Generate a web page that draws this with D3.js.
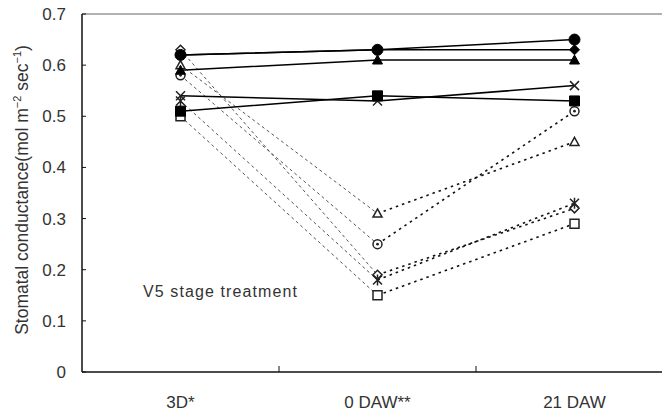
<!DOCTYPE html>
<html>
<head>
<meta charset="utf-8">
<script src="https://cdn.jsdelivr.net/npm/d3@7"></script>
<style>
  body { margin: 0; background: #fff; }
  svg text { font-family: "Liberation Sans", Arial, sans-serif; fill: #333; }
</style>
</head>
<body>
<div id="chart"></div>
<script>
// categories on the x axis
let stages = ["3D*", "0 DAW**", "21 DAW"];
let yTicks = [0, 0.1, 0.2, 0.3, 0.4, 0.5, 0.6, 0.7];

// control plants (solid lines)
let filledCircle = [0.62, 0.63, 0.65];
let filledDiamond = [0.62, 0.63, 0.63];
let filledTriangle = [0.59, 0.61, 0.61];
let crossX = [0.54, 0.53, 0.56];
let filledSquare = [0.51, 0.54, 0.53];

// waterlogged plants (dotted lines)
let openDiamond = [0.63, 0.19, 0.32];
let openTriangle = [0.60, 0.31, 0.45];
let openCircle = [0.58, 0.25, 0.51];
let asterisk = [0.53, 0.18, 0.33];
let openSquare = [0.50, 0.15, 0.29];

let series = [
  { name: "openDiamond", values: openDiamond, shape: "diamond", filled: false, dashed: true },
  { name: "openTriangle", values: openTriangle, shape: "triangle", filled: false, dashed: true },
  { name: "openCircle", values: openCircle, shape: "circledot", filled: false, dashed: true },
  { name: "asterisk", values: asterisk, shape: "asterisk", filled: false, dashed: true },
  { name: "openSquare", values: openSquare, shape: "square", filled: false, dashed: true },
  { name: "filledCircle", values: filledCircle, shape: "circle", filled: true, dashed: false },
  { name: "filledDiamond", values: filledDiamond, shape: "diamond", filled: true, dashed: false },
  { name: "filledTriangle", values: filledTriangle, shape: "triangle", filled: true, dashed: false },
  { name: "crossX", values: crossX, shape: "x", filled: false, dashed: false },
  { name: "filledSquare", values: filledSquare, shape: "square", filled: true, dashed: false }
];

const W = 662, H = 413;
const margin = { TOP: 14, LEFT: 82, BOTTOM: 41 };

const svg = d3.select("#chart").append("svg")
  .attr("width", W).attr("height", H);

const x = d3.scaleBand()
  .domain(stages)
  .range([margin.LEFT, margin.LEFT + 591]);

const y = d3.scaleLinear()
  .domain([0, 0.7])
  .range([H - margin.BOTTOM, margin.TOP]);

const cx = i => x(stages[i]) + x.bandwidth() / 2;

// top frame line
svg.append("line")
  .attr("x1", margin.LEFT).attr("x2", W)
  .attr("y1", y(0.7)).attr("y2", y(0.7))
  .attr("stroke", "#999").attr("stroke-width", 1.5);

// y axis
svg.append("line")
  .attr("x1", margin.LEFT).attr("x2", margin.LEFT)
  .attr("y1", y(0)).attr("y2", y(0.7))
  .attr("stroke", "#111").attr("stroke-width", 1.5);

svg.selectAll(".ytick").data(yTicks).enter().append("line")
  .attr("x1", margin.LEFT).attr("x2", margin.LEFT + 4)
  .attr("y1", d => y(d)).attr("y2", d => y(d))
  .attr("stroke", "#111").attr("stroke-width", 1);

svg.selectAll(".ylab").data(yTicks).enter().append("text")
  .attr("x", margin.LEFT - 16)
  .attr("y", d => y(d))
  .attr("dy", "0.35em")
  .attr("text-anchor", "end")
  .style("font-size", "17px")
  .text(d => d === 0 ? "0" : d3.format(".1f")(d));

// x axis
svg.append("line")
  .attr("x1", margin.LEFT).attr("x2", W)
  .attr("y1", y(0)).attr("y2", y(0))
  .attr("stroke", "#111").attr("stroke-width", 1.5);

svg.selectAll(".xtick").data(stages.slice(1)).enter().append("line")
  .attr("x1", d => x(d)).attr("x2", d => x(d))
  .attr("y1", y(0)).attr("y2", y(0) - 6)
  .attr("stroke", "#111").attr("stroke-width", 1);

svg.selectAll(".xlab").data(stages).enter().append("text")
  .attr("x", d => x(d) + x.bandwidth() / 2)
  .attr("y", 408)
  .attr("text-anchor", "middle")
  .style("font-size", "17px")
  .text(d => d);

// y axis title
const ttl = svg.append("text")
  .attr("transform", "translate(28, 190) rotate(-90)")
  .attr("text-anchor", "middle")
  .style("font-size", "17.5px");
ttl.append("tspan").text("Stomatal conductance(mol m");
ttl.append("tspan").attr("dy", -7).style("font-size", "11px").text("\u22122");
ttl.append("tspan").attr("dy", 7).text(" sec");
ttl.append("tspan").attr("dy", -7).style("font-size", "11px").text("\u22121");
ttl.append("tspan").attr("dy", 7).text(")");

// annotation
svg.append("text")
  .attr("x", 143).attr("y", 297)
  .style("font-size", "16px")
  .style("letter-spacing", "1.1px")
  .text("V5 stage treatment");

// lines: solid ones whole, dashed ones split in two segments with a different look
const line = d3.line()
  .x(d => cx(d.i))
  .y(d => y(d.v));

const solid = series.filter(s => !s.dashed);
const dashed = series.filter(s => s.dashed);

svg.selectAll(".seg1").data(dashed).enter().append("path")
  .attr("d", s => line([{ i: 0, v: s.values[0] }, { i: 1, v: s.values[1] }]))
  .attr("fill", "none")
  .attr("stroke", "#555")
  .attr("stroke-width", 1)
  .attr("stroke-dasharray", "3,3");

svg.selectAll(".seg2").data(dashed).enter().append("path")
  .attr("d", s => line([{ i: 1, v: s.values[1] }, { i: 2, v: s.values[2] }]))
  .attr("fill", "none")
  .attr("stroke", "#111")
  .attr("stroke-width", 1.6)
  .attr("stroke-dasharray", "2.5,4");

svg.selectAll(".solid").data(solid).enter().append("path")
  .attr("d", s => line(s.values.map((v, i) => ({ i: i, v: v }))))
  .attr("fill", "none")
  .attr("stroke", "#000")
  .attr("stroke-width", 1.5);

// markers
function markerPath(shape, r) {
  switch (shape) {
    case "circle":
    case "circledot":
      return d3.symbol(d3.symbolCircle, Math.PI * r * r)();
    case "square":
      return `M${-r},${-r}H${r}V${r}H${-r}Z`;
    case "diamond":
      return `M0,${-r}L${r},0L0,${r}L${-r},0Z`;
    case "triangle":
      return `M0,${-r}L${r},${r * 0.8}L${-r},${r * 0.8}Z`;
    case "x":
      return `M${-r},${-r}L${r},${r}M${r},${-r}L${-r},${r}`;
    case "asterisk":
      return `M${-r},${-r}L${r},${r}M${r},${-r}L${-r},${r}M0,${-r - 1}V${r + 1}`;
  }
}

const pts = [];
series.forEach(s => s.values.forEach((v, i) => pts.push({ s: s, i: i, v: v })));

const marks = svg.selectAll(".mark").data(pts).enter().append("g")
  .attr("transform", d => `translate(${cx(d.i)}, ${y(d.v)})`);

marks.append("path")
  .attr("d", d => markerPath(d.s.shape, d.s.shape === "circle" ? 5.5 : (d.s.filled ? 5 : 4.5)))
  .attr("fill", d => d.s.filled ? "#000" : (d.s.shape === "x" || d.s.shape === "asterisk" ? "none" : "#fff"))
  .attr("stroke", d => d.s.filled ? "#000" : "#222")
  .attr("stroke-width", d => d.s.filled ? 1 : 1.5);

marks.filter(d => d.s.shape === "circledot").append("circle")
  .attr("r", 1.4)
  .attr("fill", "#222");
</script>
</body>
</html>
